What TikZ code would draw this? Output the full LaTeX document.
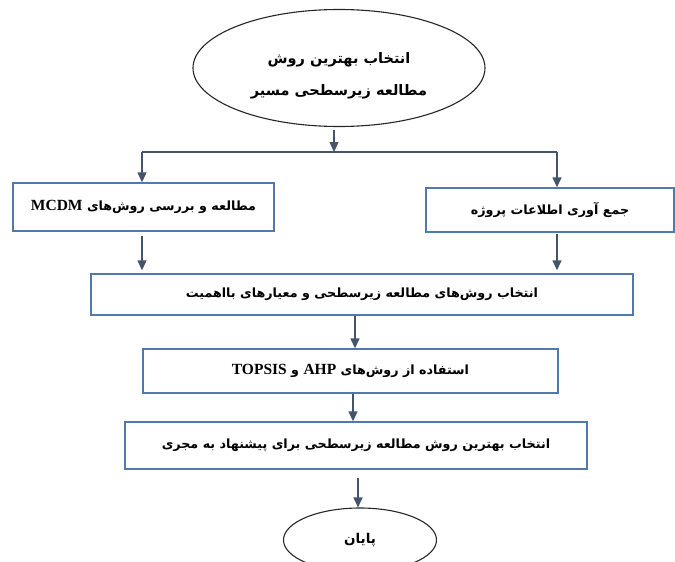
\documentclass[tikz,border=0pt]{standalone}
\usepackage{fontspec}
\TeXXeTstate=1
\newfontfamily\fa[Script=Arabic]{DejaVu Sans}
\newfontfamily\lat{Liberation Serif}
\usetikzlibrary{shapes.geometric,arrows.meta}
\definecolor{boxblue}{HTML}{5079AE}
\definecolor{arrowc}{HTML}{44546A}
\newcommand\fatext[1]{{\fa\bfseries\beginR #1\endR}}
\newcommand\lt[1]{\beginL{\lat\bfseries\fontsize{15.5}{16}\selectfont #1}\endL}
\tikzset{
  procbox/.style={draw=boxblue, line width=1.4pt, rectangle, inner sep=0pt, fill=white,
    font=\fontsize{12.7}{15}\selectfont},
  termin/.style={draw=black!85, line width=1.1pt, ellipse, inner sep=0pt,
    font=\fontsize{13.5}{15}\selectfont},
  conn/.style={draw=arrowc, line width=1.4pt},
  arr/.style={conn, -{Triangle[width=9pt,length=10pt]}}
}
\begin{document}
\begin{tikzpicture}[x=1pt,y=-1pt]
\useasboundingbox (0,0) rectangle (675,562);
\clip (0,0) rectangle (675,562);
\node[termin, minimum width=292pt, minimum height=117pt] (start) at (339,68) {};
\node[align=center, inner sep=0pt, font=\fontsize{14.5}{32}\selectfont] (starttext) at (339,76)
  {\fatext{انتخاب بهترین روش}\\\fatext{مطالعه زیرسطحی مسیر}};
\node[procbox, minimum width=261pt, minimum height=48pt] (left) at (143.5,207)
  {\fatext{مطالعه و بررسی روش‌های \lt{MCDM}}};
\node[procbox, minimum width=248pt, minimum height=44pt] (right) at (550,210)
  {\fatext{جمع آوری اطلاعات پروژه}};
\node[procbox, minimum width=542pt, minimum height=41pt] (mid) at (362,294.5)
  {\fatext{انتخاب روش‌های مطالعه زیرسطحی و معیارهای بااهمیت}};
\node[procbox, minimum width=415pt, minimum height=44pt] (ahp) at (350.5,371)
  {\fatext{استفاده از روش‌های \lt{AHP} و \lt{TOPSIS}}};
\node[procbox, minimum width=462pt, minimum height=47pt] (best) at (356,445.5)
  {\fatext{انتخاب بهترین روش مطالعه زیرسطحی برای پیشنهاد به مجری}};
\node[termin, minimum width=153pt, minimum height=64pt] (end) at (360,540)
  {\fatext{پایان}};
\coordinate (j) at (334,152);
\coordinate (jl) at (142,152);
\coordinate (jr) at (557,152);
\draw[arr] ([yshift=-3pt]start.south -| j) -- (j);
\draw[conn] (jl) -- (jr);
\draw[arr] (jl) -- (jl |- left.north);
\draw[arr] (jr) -- (jr |- right.north);
\draw[arr] ([yshift=-4pt]left.south -| jl) -- ([yshift=3pt]jl |- mid.north);
\draw[arr] ([yshift=-1pt]right.south -| jr) -- ([yshift=3pt]jr |- mid.north);
\coordinate (m1) at (355,0);
\draw[arr] (mid.south -| m1) -- (ahp.north -| m1);
\coordinate (m2) at (353,0);
\draw[arr] (ahp.south -| m2) -- (best.north -| m2);
\coordinate (m3) at (358,0);
\draw[arr] ([yshift=-8pt]best.south -| m3) -- (end.north -| m3);
\end{tikzpicture}
\end{document}
